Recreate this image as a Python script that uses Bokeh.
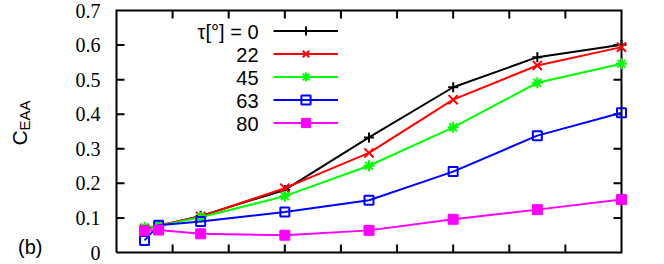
import math
from bokeh.plotting import figure
from bokeh.models import Range1d, Label, Legend, LegendItem
from bokeh.embed import file_html
from bokeh.resources import INLINE

# ---- data ----
x_vals = [0.5, 0.75, 1.5, 3.0, 4.5, 6.0, 7.5, 9.0]
tau_0 = [0.068, 0.077, 0.106, 0.181, 0.333, 0.478, 0.565, 0.601]
tau_22 = [0.068, 0.078, 0.104, 0.186, 0.288, 0.442, 0.541, 0.594]
tau_45 = [0.073, 0.077, 0.102, 0.163, 0.251, 0.362, 0.491, 0.546]
tau_63 = [0.035, 0.079, 0.090, 0.117, 0.151, 0.234, 0.338, 0.404]
tau_80 = [0.063, 0.065, 0.054, 0.050, 0.064, 0.096, 0.124, 0.153]
series = [tau_0, tau_22, tau_45, tau_63, tau_80]
series_labels = ["τ[°] = 0", "22", "45", "63", "80"]

y_ticks = [0, 0.1, 0.2, 0.3, 0.4, 0.5, 0.6, 0.7]
y_tick_labels = ["0", "0.1", "0.2", "0.3", "0.4", "0.5", "0.6", "0.7"]
x_ticks = [0, 1, 2, 3, 4, 5, 6, 7, 8, 9]

# ---- styles / layout (pixels) ----
colors = ["black", "#ff0000", "#00ff00", "#0000ff", "#ff00ff"]
markers = ["cross", "x", "asterisk", "square", "square"]
fills = [None, None, None, None, "#ff00ff"]
sizes = [10, 13, 11, 9, 10]
FONT = "Liberation Sans"
W, H = 664, 264
BOX_L, BOX_R, BOX_T, BOX_B = 116, 621, 10, 252   # plot box in canvas pixels
TICK_PX = 8
LABEL_GAP_PX = 16

x0, x1 = x_ticks[0], x_ticks[-1]
y0, y1 = y_ticks[0], y_ticks[-1]
sx = (BOX_R - BOX_L) / (x1 - x0)   # px per x unit
sy = (BOX_B - BOX_T) / (y1 - y0)   # px per y unit

x_range = Range1d(x0 - BOX_L / sx, x1 + (W - BOX_R) / sx)
y_range = Range1d(y0 - (H - BOX_B) / sy, y1 + BOX_T / sy)

p = figure(width=W, height=H, x_range=x_range, y_range=y_range,
           output_backend="svg", toolbar_location=None,
           x_axis_location=None, y_axis_location=None,
           min_border=0, min_border_left=0, min_border_right=0,
           min_border_top=0, min_border_bottom=0)
p.xgrid.visible = False
p.ygrid.visible = False
p.outline_line_color = None

# plot box
p.line(x=[x0, x1, x1, x0, x0], y=[y0, y0, y1, y1, y0],
       line_color="black", line_width=2, line_join="miter")

# inward ticks on all four sides
tx = x_ticks[1:-1]
ty = y_ticks[1:-1]
dy = TICK_PX / sy
dx = TICK_PX / sx
tick_xs = ([[t, t] for t in tx] + [[t, t] for t in tx]
           + [[x0, x0 + dx] for _ in ty] + [[x1, x1 - dx] for _ in ty])
tick_ys = ([[y0, y0 + dy] for _ in tx] + [[y1, y1 - dy] for _ in tx]
           + [[t, t] for t in ty] + [[t, t] for t in ty])
p.multi_line(xs=tick_xs, ys=tick_ys, line_color="black", line_width=2)

# y tick labels
p.text(x=[x0 - LABEL_GAP_PX / sx] * len(y_ticks), y=y_ticks, text=y_tick_labels,
       text_align="right", text_baseline="middle", text_font=FONT,
       text_font_size="20px", text_color="black")

items = []
for vals, c, m, f, s in zip(series, colors, markers, fills, sizes):
    lr = p.line(x_vals, vals, line_color=c, line_width=2)
    sr = p.scatter(x_vals, vals, marker=m, size=s, line_color=c,
                   fill_color=f, line_width=2 if f is None else 1)
    items.append(LegendItem(label=" ", renderers=[lr, sr]))

legend = Legend(items=items, location=(273, 130), glyph_width=65, glyph_height=23,
                label_height=23, label_width=0, label_standoff=0, spacing=0,
                padding=0, margin=0, border_line_color=None,
                background_fill_alpha=0, label_text_font_size="1px")
p.add_layout(legend)

# screen positions (from the canvas' bottom-left)
row_y = [233, 210, 187, 164, 141]
for lab, yy in zip(series_labels, row_y):
    p.add_layout(Label(x=258, y=yy, x_units="screen", y_units="screen", text=lab,
                       text_align="right", text_baseline="middle",
                       text_font=FONT, text_font_size="20px",
                       text_color="black"))

p.add_layout(Label(x=18.5, y=126.5, x_units="screen", y_units="screen", text="C",
                   angle=math.pi / 2, text_align="center", text_baseline="middle",
                   text_font=FONT, text_font_size="21px", text_color="black"))
p.add_layout(Label(x=23.8, y=149, x_units="screen", y_units="screen", text="EAA",
                   angle=math.pi / 2, text_align="center", text_baseline="middle",
                   text_font=FONT, text_font_size="15px", text_color="black"))
p.add_layout(Label(x=29.7, y=17.8, x_units="screen", y_units="screen", text="(b)",
                   text_align="center", text_baseline="middle",
                   text_font=FONT, text_font_size="20px", text_color="black"))

open("out.html", "w").write(file_html(p, INLINE))
